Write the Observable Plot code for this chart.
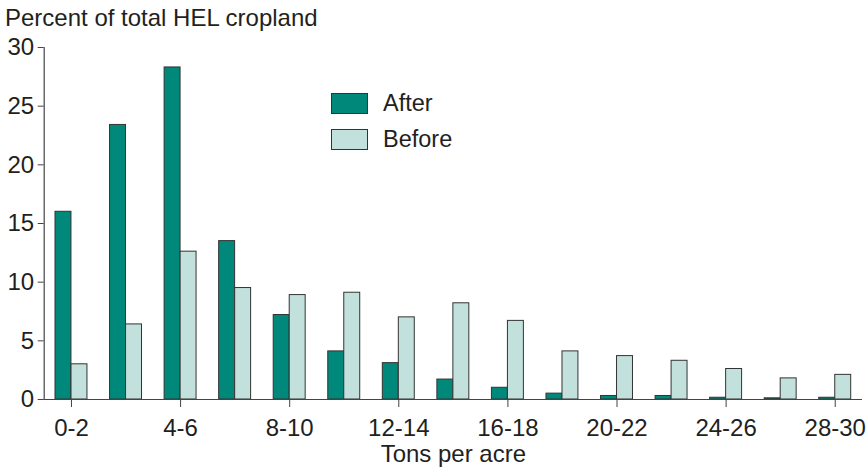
<!DOCTYPE html>
<html>
<head>
<meta charset="utf-8">
<script src="https://cdn.jsdelivr.net/npm/d3@7"></script>
<script src="https://cdn.jsdelivr.net/npm/@observablehq/plot@0.6"></script>
<style>
  body { margin: 0; background: #fff; font-family: "Liberation Sans", Arial, sans-serif; color: #231f20; }
  #wrap { position: relative; width: 868px; height: 468px; }
  #title { height: 36px; line-height: 36px; font-size: 24px; padding-left: 5px; white-space: nowrap; }
  .leg { position: absolute; left: 331px; height: 21px; display: flex; align-items: center; font-size: 23.5px; }
  .sw { width: 37px; height: 21px; border: 1px solid #333; margin-right: 15px; box-sizing: border-box; }
</style>
</head>
<body>
<div id="wrap">
  <div id="title">Percent of total HEL cropland</div>
  <div id="chart"></div>
  <div id="legend"></div>
</div>
<script>
const categories = ["0-2","2-4","4-6","6-8","8-10","10-12","12-14","14-16","16-18","18-20","20-22","22-24","24-26","26-28","28-30"];
const afterValues  = [16.0, 23.4, 28.3, 13.5, 7.2, 4.1, 3.1, 1.7, 1.0, 0.5, 0.3, 0.3, 0.15, 0.1, 0.15];
const beforeValues = [3.0, 6.4, 12.6, 9.5, 8.9, 9.1, 7.0, 8.2, 6.7, 4.1, 3.7, 3.3, 2.6, 1.8, 2.1];
const seriesNames  = ["After", "Before"];
const seriesColors = ["#00897b", "#c3e1dc"];
const yTicks = [0, 5, 10, 15, 20, 25, 30];
const xTickLabels = ["0-2","4-6","8-10","12-14","16-18","20-22","24-26","28-30"];
const xTitle = "Tons per acre";

const afterData  = categories.map((c, i) => ({category: c, series: "After",  value: afterValues[i]}));
const beforeData = categories.map((c, i) => ({category: c, series: "Before", value: beforeValues[i]}));

const chart = Plot.plot({
  width: 868,
  height: 432,
  marginTop: 11,
  marginBottom: 69,
  marginLeft: 43.7,
  marginRight: 6,
  style: { fontFamily: '"Liberation Sans", Arial, sans-serif', color: "#231f20", background: "#fff", overflow: "visible" },
  x: { domain: categories, padding: 0, round: false },
  y: { domain: [0, 30] },
  color: { domain: seriesNames, range: seriesColors },
  marks: [
    Plot.barY(afterData,  { x: "category", y: "value", fill: "series", stroke: "#333", strokeWidth: 1, insetLeft: 11.3, insetRight: 27.3 }),
    Plot.barY(beforeData, { x: "category", y: "value", fill: "series", stroke: "#333", strokeWidth: 1, insetLeft: 27.3, insetRight: 11.3 }),
    Plot.ruleY([0], { stroke: "#444", strokeWidth: 1.2 }),
    Plot.frame({ anchor: "left", stroke: "#444", strokeWidth: 1.2 }),
    Plot.axisY({ ticks: yTicks, tickSize: 6, tickPadding: 4, fontSize: 24, label: null, stroke: "#444" }),
    Plot.axisX({ ticks: xTickLabels, tickSize: 8, tickPadding: 11, fontSize: 24, label: xTitle, labelAnchor: "center", labelOffset: 62, stroke: "#444" })
  ]
});
document.getElementById("chart").appendChild(chart);

const legend = document.getElementById("legend");
const legendTops = [93, 129];
seriesNames.forEach((name, i) => {
  const row = document.createElement("div");
  row.className = "leg";
  row.style.top = legendTops[i] + "px";
  const sw = document.createElement("div");
  sw.className = "sw";
  sw.style.background = seriesColors[i];
  const tx = document.createElement("span");
  tx.textContent = name;
  row.appendChild(sw);
  row.appendChild(tx);
  legend.appendChild(row);
});
</script>
</body>
</html>
